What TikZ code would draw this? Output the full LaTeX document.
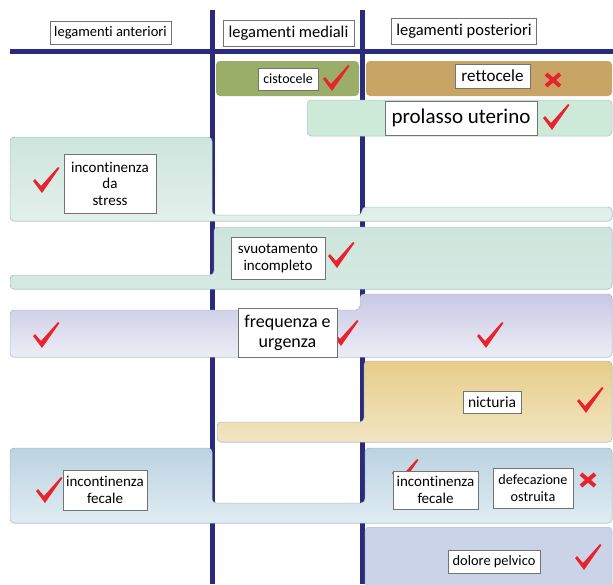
\documentclass[tikz,border=0pt]{standalone}
\usepackage{fontspec}
\setmainfont{Carlito}[Ligatures=NoCommon]
\definecolor{navy}{HTML}{2B2B7E}
\definecolor{chkred}{HTML}{E8232D}
\definecolor{cistog}{HTML}{9BAE68}
\definecolor{rettot}{HTML}{C8A465}
\definecolor{prolg}{HTML}{CDE9D8}
\definecolor{teal1}{HTML}{CDE5DC}
\definecolor{teal2}{HTML}{E3F0EB}
\definecolor{lav1}{HTML}{C8C8E4}
\definecolor{lav2}{HTML}{EDEDF6}
\definecolor{yel1}{HTML}{E7CD88}
\definecolor{yel2}{HTML}{F2E5C4}
\definecolor{blu1}{HTML}{BBD3E1}
\definecolor{blu2}{HTML}{E0ECF2}
\definecolor{dol}{HTML}{CAD3E7}
\definecolor{edge}{HTML}{AFC3CC}
\tikzset{
  lbl/.style={draw=gray!90!black, line width=0.7pt, fill=white, inner sep=1pt, align=center},
  band/.style={draw=edge, line width=0.5pt, rounded corners=4pt},
  rule/.style={navy, line width=5pt},
  chk/.pic={\fill[chkred] (-13,1) -- (-11,-1) -- (-5,6) -- (12,-13) -- (13.5,-12) -- (-4,13) -- cycle;},
  xmk/.pic={\draw[chkred, line width=4pt] (-7,-6) -- (7,6) (-7,6) -- (7,-6);}
}
\newcommand{\fs}[2]{\fontsize{#1}{#2}\selectfont}
\begin{document}
\begin{tikzpicture}[x=1pt,y=-1pt]
\useasboundingbox (0,0) rectangle (613,584);
% grid lines
\coordinate (v1t) at (212.5,10); \coordinate (v1b) at (212.5,584);
\coordinate (v2t) at (362.5,10); \coordinate (v2b) at (362.5,584);
\coordinate (hl) at (10,51.5); \coordinate (hr) at (613,51.5);
\draw[rule] (v1t) -- (v1b);
\draw[rule] (v2t) -- (v2b);
\draw[rule] (hl) -- (hr);
% headers
\node[lbl, minimum width=121pt, minimum height=23pt, font=\fs{14.5}{16}] (hant) at (110.5,32.5) {legamenti anteriori};
\node[lbl, minimum width=131pt, minimum height=26pt, font=\fs{16.5}{18}] (hmed) at (288.5,33) {legamenti mediali};
\node[lbl, minimum width=145pt, minimum height=26pt, font=\fs{16.5}{18}] (hpos) at (464,31) {legamenti posteriori};
% row 1
\fill[cistog, rounded corners=4pt] (216,61) rectangle (359,96);
\fill[rettot, rounded corners=4pt] (366,61) rectangle (612,96);
\node[lbl, minimum width=60pt, minimum height=22pt, font=\fs{14}{16}] (cist) at (288,79) {cistocele};
\pic at (336,78) {chk};
\node[lbl, minimum width=75pt, minimum height=24pt, font=\fs{17}{19}] (rett) at (492.5,76) {rettocele};
\pic at (553,80) {xmk};
% prolasso
\filldraw[band, fill=prolg] (307,100) rectangle (612,136);
\node[lbl, minimum width=152pt, minimum height=34pt, font=\fs{21}{24}] (prol) at (461,118) {prolasso uterino};
\pic at (556,117) {chk};
% stress
\filldraw[band, top color=teal1, bottom color=teal2] (10,137) -- (212,137) -- (212,215) -- (362,215) -- (362,207) -- (612,207) -- (612,221) -- (10,221) -- cycle;
\pic at (46,180) {chk};
\node[lbl, minimum width=92pt, minimum height=59pt, font=\fs{15}{16.5}] (stress) at (110,183.5) {incontinenza\\da\\stress};
% svuotamento
\filldraw[band, top color=teal1, bottom color=teal1!85!white] (214,227) -- (612,227) -- (612,289) -- (10,289) -- (10,275) -- (214,275) -- cycle;
\node[lbl, minimum width=94pt, minimum height=42pt, font=\fs{15}{17}] (svuot) at (278,258) {svuotamento\\incompleto};
\pic at (341,255) {chk};
% frequenza
\filldraw[band, top color=lav1, bottom color=lav2] (10,310) -- (360,310) -- (360,294) -- (612,294) -- (612,357) -- (10,357) -- cycle;
\pic at (46,335) {chk};
\pic at (345,333) {chk};
\pic at (490,335) {chk};
\node[lbl, minimum width=99pt, minimum height=49pt, font=\fs{18}{20}] (freq) at (287.5,332.5) {frequenza e\\urgenza};
% nicturia
\filldraw[band, top color=yel1, bottom color=yel2] (364,361) -- (612,361) -- (612,442) -- (217,442) -- (217,422) -- (364,422) -- cycle;
\node[lbl, minimum width=58pt, minimum height=22pt, font=\fs{15.5}{17}] (nict) at (492,402) {nicturia};
\pic at (590,400) {chk};
% fecale
\filldraw[band, top color=blu1, bottom color=blu2] (10,448) -- (212,448) -- (212,503) -- (365,503) -- (365,448) -- (612,448) -- (612,523) -- (10,523) -- cycle;
\pic at (49,490) {chk};
\node[lbl, minimum width=84pt, minimum height=40pt, font=\fs{15}{17}] (fecl) at (105,490) {incontinenza\\fecale};
\pic at (405,472) {chk};
\node[lbl, minimum width=85pt, minimum height=38pt, font=\fs{15}{17}] (fecr) at (435.5,490) {incontinenza\\fecale};
\node[lbl, minimum width=80pt, minimum height=40pt, font=\fs{14.2}{17}] (defec) at (533,488) {defecazione\\ostruita};
\pic at (588,480) {xmk};
% dolore
\filldraw[band, fill=dol] (365,527) -- (612,527) -- (612,590) -- (365,590) -- cycle;
\node[lbl, minimum width=92pt, minimum height=23pt, font=\fs{14.4}{16}] (dol) at (494,561.5) {dolore pelvico};
\pic at (588,557) {chk};
\end{tikzpicture}
\end{document}
